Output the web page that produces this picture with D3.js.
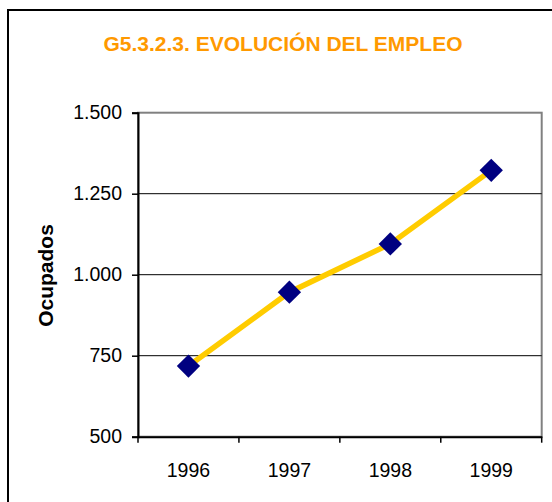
<!DOCTYPE html>
<html>
<head>
<meta charset="utf-8">
<script src="https://cdn.jsdelivr.net/npm/d3@7"></script>
<style>
  body { margin: 0; background: #fff; }
  svg { display: block; font-family: Arial, "Liberation Sans", sans-serif; }
</style>
</head>
<body>
<svg id="chart" width="552" height="502"></svg>
<script>
// datos
var years = ["1996", "1997", "1998", "1999"];
var ocupados = [718, 946, 1095, 1322];
var yTicks = [500, 750, 1000, 1250, 1500];
var yDomain = [500, 1500];
var title = "G5.3.2.3. EVOLUCIÓN DEL EMPLEO";
var yLabel = "Ocupados";

d3.formatDefaultLocale({"decimal": ",", "thousands": ".", "grouping": [3], "currency": ["", " €"]});

var _svg = d3.select("#chart"),
  _plot = {left: 138, right: 541.7, top: 112.7, bottom: 436.7},
  _x = d3.scaleBand().domain(years).range([_plot.left, _plot.right]),
  _y = d3.scaleLinear().domain(yDomain).range([_plot.bottom, _plot.top]),
  fmt = d3.format(",.0f");

// marco exterior (se sale por la derecha y por abajo)
_svg.append("rect")
  .attr("x", 8).attr("y", 10)
  .attr("width", 600).attr("height", 560)
  .attr("fill", "#fff")
  .attr("stroke", "#000")
  .attr("stroke-width", 2);

_svg.append("text")
  .attr("x", 283).attr("y", 51)
  .attr("text-anchor", "middle")
  .style("font-size", "21px")
  .style("font-weight", "bold")
  .style("fill", "#FF9900")
  .text(title);

// borde del area de trazado
_svg.append("rect")
  .attr("x", _plot.left).attr("y", _plot.top)
  .attr("width", _plot.right - _plot.left)
  .attr("height", _plot.bottom - _plot.top)
  .attr("fill", "#fff")
  .attr("stroke", "#808080")
  .attr("stroke-width", 2);

// lineas de division
_svg.append("g").selectAll("line")
  .data(yTicks.filter(function(d) { return d > yDomain[0] && d < yDomain[1]; }))
  .enter().append("line")
  .attr("x1", _plot.left).attr("x2", _plot.right)
  .attr("y1", function(d) { return _y(d); })
  .attr("y2", function(d) { return _y(d); })
  .attr("stroke", "#000")
  .attr("stroke-width", 1);

// eje Y
var yAxis = _svg.append("g")
  .attr("transform", "translate(" + _plot.left + ",0)")
  .call(d3.axisLeft(_y).tickValues(yTicks).tickSize(6).tickPadding(10).tickFormat(fmt));
yAxis.select(".domain").attr("stroke", "#000").attr("stroke-width", 2);
yAxis.selectAll(".tick line").attr("stroke", "#000").attr("stroke-width", 1.5);
yAxis.selectAll("text").style("font-size", "19.5px").style("fill", "#000").attr("font-family", null);

// eje X: marcas en los limites de cada categoria
var xAxis = _svg.append("g")
  .attr("transform", "translate(0," + _plot.bottom + ")")
  .call(d3.axisBottom(_x).tickSize(0).tickPadding(26.6));
xAxis.select(".domain").attr("stroke", "#000").attr("stroke-width", 2);
xAxis.selectAll("text").style("font-size", "19.5px").style("fill", "#000").attr("font-family", null);
xAxis.selectAll(".edge")
  .data(years.map(function(d) { return _x(d); }).concat([_x.range()[1]]))
  .enter().append("line")
  .attr("class", "edge")
  .attr("x1", function(d) { return d; }).attr("x2", function(d) { return d; })
  .attr("y1", 0).attr("y2", 6)
  .attr("stroke", "#000")
  .attr("stroke-width", 1.5);

_svg.append("text")
  .attr("transform", "translate(52.6,275.5) rotate(-90)")
  .attr("text-anchor", "middle")
  .style("font-size", "21px")
  .style("font-weight", "bold")
  .text(yLabel);

// serie
var cx = function(d, i) { return _x(years[i]) + _x.bandwidth() / 2; };

_svg.append("path")
  .datum(ocupados)
  .attr("fill", "none")
  .attr("stroke", "#FFCC00")
  .attr("stroke-width", 5.5)
  .attr("d", d3.line().x(cx).y(function(d) { return _y(d); }));

_svg.append("g").selectAll("path")
  .data(ocupados)
  .enter().append("path")
  .attr("transform", function(d, i) { return "translate(" + cx(d, i) + "," + _y(d) + ") rotate(45)"; })
  .attr("d", d3.symbol().type(d3.symbolSquare).size(16.5 * 16.5))
  .attr("fill", "#000080");
</script>
</body>
</html>
